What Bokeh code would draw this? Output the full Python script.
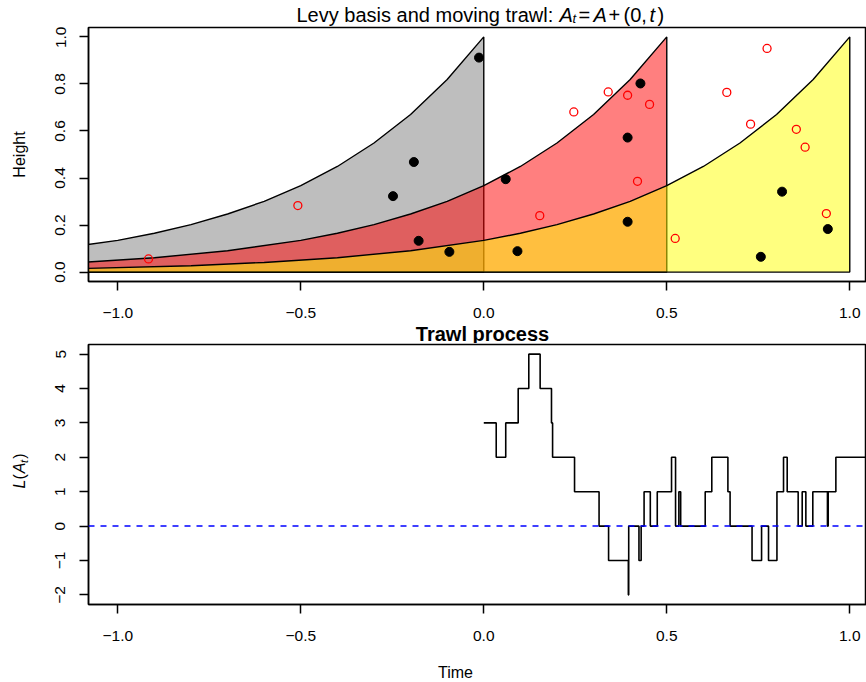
import math
from bokeh.plotting import figure
from bokeh.models import Range1d, LinearAxis, FixedTicker, Span
from bokeh.core.properties import value
from bokeh.layouts import column, row
from bokeh.embed import file_html
from bokeh.resources import INLINE

# ---------------- data ----------------
# trawl shape: height vs offset from the trawl's right end
shape_offset = [-2.1, -1.8, -1.6, -1.4, -1.2, -1.0, -0.9, -0.8, -0.7, -0.6,
                -0.5, -0.4, -0.3, -0.2, -0.1, 0.0]
shape_height = [0.015, 0.027, 0.041, 0.061, 0.091, 0.135, 0.165, 0.202, 0.247, 0.301,
                0.368, 0.449, 0.549, 0.670, 0.819, 1.0]
trawl_times = [0.0, 0.5, 1.0]
trawl_fill = ["#BEBEBE", "#FF0000", "#FFFF00"]
trawl_alpha = [1.0, 0.5, 0.5]

black_x = [-0.013, -0.191, -0.248, -0.178, -0.094, 0.060, 0.092, 0.428, 0.393, 0.393,
           0.815, 0.757, 0.940]
black_y = [0.912, 0.468, 0.323, 0.133, 0.086, 0.395, 0.089, 0.802, 0.572, 0.214,
           0.342, 0.065, 0.183]
red_x = [-0.916, -0.508, 0.246, 0.340, 0.393, 0.453, 0.420, 0.153, 0.523, 0.774,
         0.664, 0.729, 0.854, 0.878, 0.936]
red_y = [0.056, 0.283, 0.681, 0.766, 0.752, 0.713, 0.386, 0.240, 0.143, 0.951,
         0.764, 0.629, 0.607, 0.531, 0.249]

step_t = [0.0, 0.034, 0.060, 0.094, 0.123, 0.154, 0.185, 0.188, 0.248, 0.315,
          0.341, 0.395, 0.396, 0.424, 0.430, 0.438, 0.455, 0.474, 0.513, 0.524,
          0.533, 0.538, 0.605, 0.623, 0.667, 0.673, 0.733, 0.759, 0.778, 0.801,
          0.819, 0.829, 0.859, 0.870, 0.880, 0.899, 0.939, 0.941, 0.962, 1.08]
step_L = [3, 2, 3, 4, 5, 4, 3, 2, 1, 0,
          -1, -2, 0, -1, 0, 1, 0, 1, 2, 0,
          1, 0, 1, 2, 1, 0, -1, 0, -1, 1,
          2, 1, 0, 1, 0, 1, 0, 1, 2, 2]

x_ticks = [-1.0, -0.5, 0.0, 0.5, 1.0]
x_tick_labels = ["\u22121.0", "\u22120.5", "0.0", "0.5", "1.0"]
top_y_ticks = [0.0, 0.2, 0.4, 0.6, 0.8, 1.0]
top_y_labels = ["0.0", "0.2", "0.4", "0.6", "0.8", "1.0"]
bot_y_ticks = [-2, -1, 0, 1, 2, 3, 4, 5]
bot_y_labels = ["\u22122", "\u22121", "0", "1", "2", "3", "4", "5"]

title_top = ["Levy basis and moving trawl:", "A", "t", "=", "A", "+", "(0,", "t", ")"]
title_bottom = "Trawl process"
xlab = "Time"
ylab_top = "Height"
ylab_bottom = ["L", "(", "A", "t", ")"]

# ---------------- styling ----------------
FONT = "Liberation Sans"
TICK_SIZE = "15.5px"
LAB_SIZE = "16px"
X_START, X_END = -1.08, 1.0457
W = 866
LEFT_W = 40


def style_panel(p, yt, ylabels):
    p.outline_line_color = "black"
    p.outline_line_width = 1.5
    p.xgrid.visible = False
    p.ygrid.visible = False
    p.background_fill_color = "white"
    p.border_fill_color = "white"
    xa = LinearAxis(ticker=FixedTicker(ticks=x_ticks),
                    major_label_overrides={t: l for t, l in zip(x_ticks, x_tick_labels)},
                    major_label_standoff=17)
    ya = LinearAxis(ticker=FixedTicker(ticks=yt),
                    major_label_overrides={t: l for t, l in zip(yt, ylabels)},
                    major_label_orientation="vertical", major_label_standoff=14)
    for ax in (xa, ya):
        ax.axis_line_color = "black"
        ax.axis_line_width = 1.5
        ax.major_tick_line_color = "black"
        ax.major_tick_line_width = 1.5
        ax.major_tick_out = 9
        ax.major_tick_in = 0
        ax.minor_tick_line_color = None
        ax.major_label_text_font = FONT
        ax.major_label_text_font_size = TICK_SIZE
        ax.major_label_text_color = "black"
    p.add_layout(xa, "below")
    p.add_layout(ya, "left")


def strip(w, h):
    s = figure(width=w, height=h, output_backend="svg", toolbar_location=None,
               x_range=Range1d(0, w), y_range=Range1d(0, h),
               x_axis_type=None, y_axis_type=None,
               min_border_left=0, min_border_right=0, min_border_top=0,
               min_border_bottom=0)
    s.outline_line_color = None
    s.xgrid.visible = False
    s.ygrid.visible = False
    s.background_fill_color = "white"
    s.border_fill_color = "white"
    return s


def put(s, x, y, txt, size, style="normal", align="left", angle=0.0):
    s.text(x=[x], y=[y], text=[txt], angle=angle, text_font=value(FONT),
           text_font_size=value(size), text_font_style=style, text_color="black",
           text_align=align, text_baseline="alphabetic")


# ---------------- title strip (page y 0..26) ----------------
t1 = strip(W, 26)
seg_x = [296, 559, 572, 578, 593, 608, 623, 649, 657]
seg_y = [12, 12, 8.5, 12, 12, 12, 12, 12, 12]
seg_style = ["normal", "italic", "italic", "normal", "italic", "normal", "normal",
             "italic", "normal"]
seg_size = ["20px", "20px", "13px", "20px", "20px", "20px", "20px", "20px", "20px"]
for txt, sx, sy, st, sz in zip(title_top, seg_x, seg_y, seg_style, seg_size):
    put(t1, sx, sy, txt, sz, st)

# ---------------- top panel (page y 26..320) ----------------
p1 = figure(width=W - LEFT_W, height=294, output_backend="svg", toolbar_location=None,
            x_range=Range1d(X_START, X_END), y_range=Range1d(-0.04, 1.04),
            x_axis_type=None, y_axis_type=None,
            min_border_left=48, min_border_right=0, min_border_top=1,
            min_border_bottom=33)
style_panel(p1, top_y_ticks, top_y_labels)

for t, col, a in zip(trawl_times, trawl_fill, trawl_alpha):
    xs = [t + o for o in shape_offset] + [t, t + shape_offset[0]]
    ys = list(shape_height) + [0.0, 0.0]
    p1.patch(xs, ys, fill_color=col, fill_alpha=a, line_color="black", line_width=1.4)

p1.scatter(black_x, black_y, marker="circle", size=9, fill_color="black",
           line_color="black")
p1.scatter(red_x, red_y, marker="circle", size=8, fill_color=None,
           line_color="#FF0000", line_width=1.3)

ls1 = strip(LEFT_W, 294)
put(ls1, 19, 147, ylab_top, LAB_SIZE, align="center", angle=math.pi / 2)

# ---------------- bottom title strip (page y 320..343) ----------------
t2 = strip(W, 23)
put(t2, 482, 10, title_bottom, "20px", "bold", align="center")

# ---------------- bottom panel (page y 343..650) ----------------
p2 = figure(width=W - LEFT_W, height=307, output_backend="svg", toolbar_location=None,
            x_range=Range1d(X_START, X_END), y_range=Range1d(-2.28, 5.28),
            x_axis_type=None, y_axis_type=None,
            min_border_left=48, min_border_right=0, min_border_top=1,
            min_border_bottom=46)
style_panel(p2, bot_y_ticks, bot_y_labels)

p2.add_layout(Span(location=0, dimension="width", line_color="#0000FF",
                   line_width=1.5, line_dash="6 6"))
p2.step(step_t, step_L, mode="after", line_color="black", line_width=1.6)

ls2 = strip(LEFT_W, 307)
lab_y = [137, 147.7, 155, 167, 172]
lab_x = [19, 19, 19, 23, 19]
lab_style = ["italic", "normal", "italic", "italic", "normal"]
lab_size = [LAB_SIZE, LAB_SIZE, LAB_SIZE, "11px", LAB_SIZE]
for txt, lx, ly, st, sz in zip(ylab_bottom, lab_x, lab_y, lab_style, lab_size):
    put(ls2, lx, ly, txt, sz, st, angle=math.pi / 2)

# ---------------- x label strip (page y 650..682) ----------------
t3 = strip(W, 32)
put(t3, 455, 9.6, xlab, LAB_SIZE, align="center")

layout = column(t1, row(ls1, p1), t2, row(ls2, p2), t3)
open("out.html", "w").write(file_html(layout, INLINE))
